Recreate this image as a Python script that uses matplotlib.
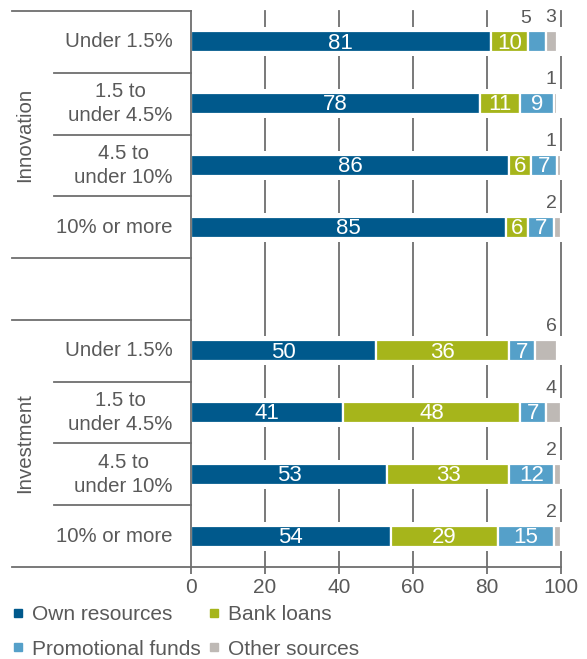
import matplotlib
matplotlib.use("Agg")
import matplotlib.pyplot as plt
from matplotlib.lines import Line2D
import numpy as np

plt.rcParams['font.family'] = ['Liberation Sans', 'DejaVu Sans']

groups = ["Innovation", "Investment"]
categories = ["Under 1.5%", "1.5 to\nunder 4.5%", "4.5 to\nunder 10%", "10% or more"]
series = ["Own resources", "Bank loans", "Promotional funds", "Other sources"]
colors = ["#00598C", "#A6B51B", "#55A0C9", "#BEB9B5"]

innovation = {
    "Own resources":     [81, 78, 86, 85],
    "Bank loans":        [10, 11, 6, 6],
    "Promotional funds": [5, 9, 7, 7],
    "Other sources":     [3, 1, 1, 2],
}
investment = {
    "Own resources":     [50, 41, 53, 54],
    "Bank loans":        [36, 48, 33, 29],
    "Promotional funds": [7, 7, 12, 15],
    "Other sources":     [6, 4, 2, 2],
}
xticks = [0, 20, 40, 60, 80, 100]

TXT = "#595959"
LINE = "#6E6E6E"

fig = plt.figure(figsize=(5.87, 6.59), dpi=100)
ax = fig.add_axes([191/587, 1-567/659, 370/587, 556/659])

rows_inno = np.arange(4)
rows_inv = np.arange(5, 9)
bar_h = 0.34
band_h = 0.47

ax.set_xlim(0, 100)
ax.set_ylim(8.5, -0.5)

# gridlines
for x in xticks[1:]:
    ax.axvline(x, color=LINE, lw=1.3, zorder=1, clip_on=False)

def draw_group(rows, data):
    ax.barh(rows, 101, left=-0.5, height=band_h, color="white", zorder=2, clip_on=False)
    left = np.zeros(len(rows))
    for s, c in zip(series, colors):
        vals = np.array(data[s], dtype=float)
        ax.barh(rows, vals, left=left, height=bar_h, color=c, edgecolor="white",
                linewidth=1.6, zorder=3)
        for r, v, l in zip(rows, vals, left):
            cx = l + v / 2
            if v >= 6 and s != "Other sources":
                ax.text(cx, r + 0.02, f"{int(v)}", ha="center", va="center",
                        color="white", fontsize=16, zorder=4)
            elif s == "Promotional funds":
                ax.text(cx - 3, r - bar_h/2 - 0.07, f"{int(v)}", ha="center", va="bottom",
                        color=TXT, fontsize=14, zorder=4)
            elif s == "Other sources":
                ax.text(98.8, r - bar_h/2 - 0.08, f"{int(v)}", ha="right",
                        va="bottom", color=TXT, fontsize=14, zorder=4)
        left = left + vals

draw_group(rows_inno, innovation)
draw_group(rows_inv, investment)

# spines
for sp in ["top", "right"]:
    ax.spines[sp].set_visible(False)
ax.spines["left"].set_color(LINE)
ax.spines["left"].set_linewidth(1.3)
ax.spines["left"].set_zorder(5)
ax.spines["bottom"].set_visible(False)

ax.set_yticks([])
ax.set_xticks(xticks)
ax.set_xticklabels([str(t) for t in xticks], fontsize=15, color=TXT)
ax.tick_params(axis="x", direction="out", length=5, width=1.3, color=LINE, pad=3)

# bottom axis line extended left
ax.plot([-0.484, 1.0], [0, 0], transform=ax.transAxes, color=LINE, lw=1.3,
        clip_on=False, zorder=5)

# separators
trans = ax.get_yaxis_transform()
for y in [-0.5, 3.5, 4.5]:
    ax.plot([-0.484, 0], [y, y], transform=trans, color=LINE, lw=1.3, clip_on=False)
for y in [0.5, 1.5, 2.5, 5.5, 6.5, 7.5]:
    ax.plot([-0.37, 0], [y, y], transform=trans, color=LINE, lw=1.3, clip_on=False)

# category labels
for rows in (rows_inno, rows_inv):
    for r, cat in zip(rows, categories):
        ax.text(-0.049, r, cat, transform=trans, ha="right", va="center",
                multialignment="center", fontsize=14.7, color=TXT, linespacing=1.3)

# group labels
ax.text(-0.449, np.mean(rows_inno), groups[0], transform=trans, rotation=90,
        ha="center", va="center", fontsize=14.7, color=TXT)
ax.text(-0.449, np.mean(rows_inv), groups[1], transform=trans, rotation=90,
        ha="center", va="center", fontsize=14.7, color=TXT)

# legend
order = [0, 2, 1, 3]
handles = [Line2D([], [], marker="s", linestyle="none", markersize=5.5,
                  markerfacecolor=colors[i], markeredgecolor=colors[i]) for i in order]
labels = [series[i] for i in order]
fig.legend(handles, labels, loc="upper left", bbox_to_anchor=(14/587, 1-605/659),
           ncol=2, frameon=False, fontsize=15, labelcolor=TXT,
           handlelength=0.4, handletextpad=0.45, columnspacing=0.45,
           labelspacing=0.75, borderaxespad=0, borderpad=0)

fig.savefig("out.png", dpi=100)
